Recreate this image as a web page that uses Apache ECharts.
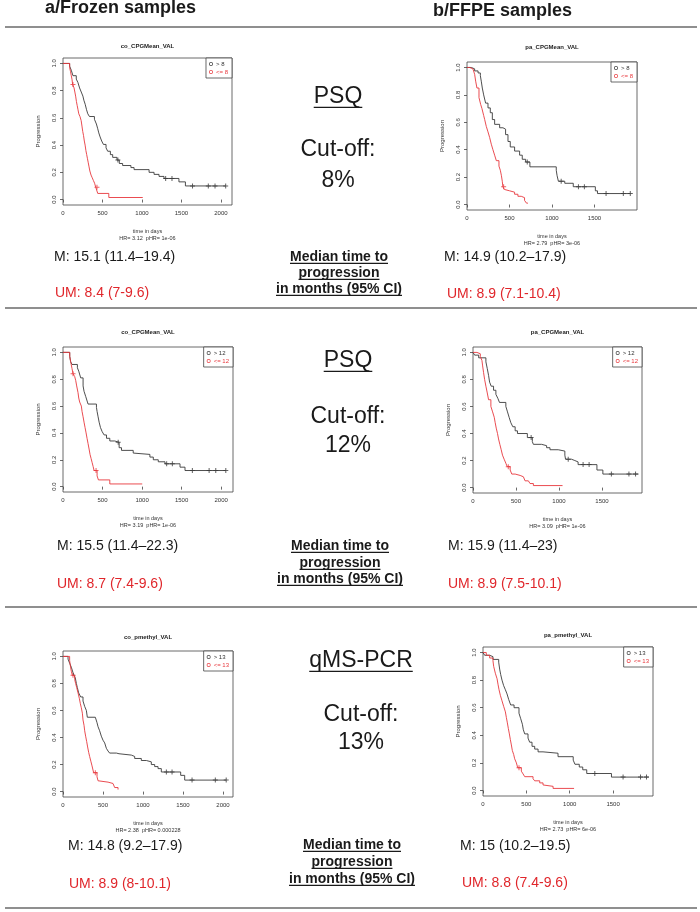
<!DOCTYPE html>
<html><head><meta charset="utf-8">
<script src="https://cdn.jsdelivr.net/npm/echarts@6/dist/echarts.min.js"></script>
<style>html,body{margin:0;padding:0;background:#fff}#c{width:700px;height:912px}</style>
</head><body><div id="c"></div>
<script>
// ---------- DATA ----------
const titles = ['co_CPGMean_VAL','pa_CPGMean_VAL','co_CPGMean_VAL','pa_CPGMean_VAL','co_pmethyl_VAL','pa_pmethyl_VAL'];
const cutoffs = ['8','8','12','12','13','13'];
const hrLabels = ['HR= 3.12  pHR= 1e-06','HR= 2.79  pHR= 3e-06','HR= 3.19  pHR= 1e-06','HR= 3.09  pHR= 1e-06','HR= 2.38  pHR= 0.000228','HR= 2.73  pHR= 6e-06'];
const mLabels = ['M: 15.1 (11.4–19.4)','M: 14.9 (10.2–17.9)','M: 15.5 (11.4–22.3)','M: 15.9 (11.4–23)','M: 14.8 (9.2–17.9)','M: 15 (10.2–19.5)'];
const umLabels = ['UM: 8.4 (7-9.6)','UM: 8.9 (7.1-10.4)','UM: 8.7 (7.4-9.6)','UM: 8.9 (7.5-10.1)','UM: 8.9 (8-10.1)','UM: 8.8 (7.4-9.6)'];
const methods = ['PSQ','PSQ','qMS-PCR'];
const cutTexts = ['8%','12%','13%'];
const cutLabel = 'Cut-off:';
const medianLines = ['Median time to','progression','in months (95% CI)'];
const headers = ['a/Frozen samples','b/FFPE samples'];
const yAxisName = 'Progression';
const xAxisName = 'time in days';
const xTicksFrozen = [0,500,1000,1500,2000];
const xTicksFFPE = [0,500,1000,1500];
const yTicks = [0,0.2,0.4,0.6,0.8,1.0];

// Panel 1 (co_CPGMean_VAL, cut-off 8)
const p1_hi = [[0,1],[84,0.98],[105,0.95],[126,0.91],[168,0.885],[189,0.86],[210,0.82],[231,0.79],[252,0.76],[264,0.73],[281,0.70],[298,0.66],[314,0.63],[335,0.61],[398,0.59],[423,0.555],[440,0.52],[453,0.49],[470,0.46],[490,0.43],[512,0.405],[545,0.38],[566,0.355],[600,0.33],[629,0.31],[683,0.29],[713,0.265],[755,0.25],[860,0.235],[900,0.22],[1090,0.20],[1153,0.185],[1216,0.17],[1279,0.155],[1468,0.13],[1550,0.10],[2060,0.10]];
const p1_lo = [[0,1],[84,0.97],[95,0.94],[105,0.91],[115,0.88],[122,0.845],[140,0.82],[150,0.79],[160,0.76],[170,0.72],[180,0.69],[190,0.66],[200,0.63],[215,0.61],[230,0.58],[240,0.54],[250,0.50],[260,0.47],[270,0.43],[280,0.40],[290,0.36],[300,0.33],[310,0.30],[320,0.27],[330,0.24],[340,0.21],[355,0.18],[370,0.16],[385,0.14],[400,0.12],[415,0.09],[440,0.045],[580,0.015],[1010,0.015]];
const p1_hiCens = [[695,0.29],[1300,0.155],[1380,0.155],[1640,0.10],[1840,0.10],[1925,0.10],[2060,0.10]];
const p1_loCens = [[126,0.845],[430,0.09]];

// Panel 2 (pa_CPGMean_VAL, cut-off 8)
const p2_hi = [[0,1],[51,0.99],[90,0.975],[130,0.96],[157,0.94],[168,0.90],[180,0.85],[196,0.80],[219,0.74],[247,0.705],[274,0.67],[298,0.62],[325,0.585],[384,0.56],[423,0.55],[454,0.51],[482,0.46],[509,0.42],[560,0.39],[619,0.36],[650,0.33],[690,0.31],[740,0.275],[1050,0.25],[1060,0.21],[1075,0.17],[1150,0.155],[1250,0.13],[1510,0.10],[1535,0.08],[1925,0.08]];
const p2_lo = [[0,1],[31,0.99],[70,0.98],[90,0.95],[102,0.90],[117,0.85],[141,0.78],[161,0.73],[176,0.70],[196,0.65],[208,0.62],[227,0.57],[247,0.53],[266,0.49],[286,0.44],[305,0.40],[325,0.36],[345,0.32],[376,0.28],[392,0.25],[405,0.21],[415,0.17],[422,0.13],[440,0.11],[454,0.10],[501,0.09],[560,0.075],[599,0.06],[638,0.05],[677,0.03],[700,0.01],[717,0.01]];
const p2_hiCens = [[709,0.31],[1108,0.17],[1311,0.13],[1381,0.13],[1636,0.08],[1839,0.08],[1921,0.08]];
const p2_loCens = [[431,0.13]];

// Panel 3 (co_CPGMean_VAL, cut-off 12)
const p3_hi = [[0,1],[85,0.97],[97,0.93],[114,0.91],[182,0.885],[199,0.86],[224,0.81],[254,0.75],[266,0.71],[288,0.67],[309,0.63],[317,0.615],[423,0.59],[431,0.56],[444,0.52],[457,0.48],[474,0.44],[495,0.41],[520,0.385],[550,0.36],[592,0.34],[655,0.33],[710,0.29],[740,0.27],[888,0.25],[909,0.24],[1099,0.22],[1142,0.20],[1205,0.185],[1290,0.17],[1480,0.145],[1543,0.12],[2059,0.12]];
const p3_lo = [[0,1],[85,0.97],[97,0.93],[114,0.88],[127,0.84],[148,0.82],[161,0.79],[173,0.75],[190,0.70],[199,0.66],[211,0.63],[232,0.60],[241,0.56],[254,0.52],[266,0.48],[279,0.44],[292,0.40],[304,0.36],[317,0.32],[330,0.28],[342,0.24],[355,0.21],[368,0.18],[381,0.15],[393,0.12],[431,0.08],[448,0.05],[592,0.02],[1002,0.02]];
const p3_hiCens = [[698,0.33],[1311,0.17],[1383,0.17],[1636,0.12],[1848,0.12],[1932,0.12],[2059,0.12]];
const p3_loCens = [[127,0.84],[418,0.12]];

// Panel 4 (pa_CPGMean_VAL, cut-off 12)
const p4_hi = [[0,1],[19,0.98],[66,0.96],[150,0.93],[166,0.88],[181,0.83],[193,0.78],[212,0.75],[239,0.72],[266,0.69],[289,0.66],[308,0.63],[382,0.60],[401,0.56],[420,0.52],[440,0.48],[463,0.45],[490,0.42],[517,0.40],[632,0.37],[690,0.34],[702,0.32],[798,0.31],[856,0.295],[895,0.28],[991,0.27],[1068,0.24],[1076,0.21],[1145,0.20],[1184,0.19],[1222,0.17],[1441,0.13],[1510,0.10],[1925,0.10]];
const p4_lo = [[0,1],[46,0.99],[85,0.97],[104,0.94],[112,0.90],[123,0.85],[135,0.80],[150,0.75],[166,0.70],[181,0.65],[208,0.60],[228,0.56],[247,0.52],[258,0.48],[270,0.44],[285,0.40],[297,0.36],[312,0.32],[328,0.28],[343,0.24],[362,0.21],[382,0.18],[398,0.155],[432,0.13],[451,0.10],[490,0.09],[548,0.08],[586,0.07],[605,0.05],[644,0.04],[663,0.03],[702,0.015],[1041,0.015]];
const p4_hiCens = [[676,0.37],[1107,0.21],[1280,0.17],[1350,0.17],[1609,0.10],[1813,0.10],[1890,0.10]];
const p4_loCens = [[410,0.155]];

// Panel 5 (co_pmethyl_VAL, cut-off 13)
const p5_hi = [[0,1],[63,0.98],[83,0.95],[104,0.92],[125,0.88],[138,0.86],[154,0.84],[167,0.80],[179,0.77],[196,0.73],[221,0.70],[250,0.67],[271,0.63],[292,0.60],[304,0.55],[404,0.54],[425,0.51],[438,0.48],[458,0.45],[479,0.41],[500,0.38],[521,0.36],[542,0.32],[563,0.30],[583,0.285],[667,0.28],[700,0.27],[854,0.26],[896,0.245],[979,0.23],[1042,0.22],[1104,0.20],[1146,0.185],[1188,0.17],[1229,0.145],[1471,0.12],[1521,0.085],[2040,0.085]];
const p5_lo = [[0,1],[83,0.97],[92,0.93],[104,0.89],[117,0.86],[146,0.83],[158,0.80],[171,0.77],[188,0.73],[204,0.69],[217,0.65],[229,0.62],[242,0.58],[250,0.53],[263,0.49],[271,0.45],[283,0.41],[296,0.37],[308,0.33],[321,0.29],[333,0.26],[350,0.22],[363,0.19],[383,0.14],[425,0.11],[438,0.08],[458,0.07],[563,0.06],[625,0.05],[646,0.03],[688,0.015]];
const p5_hiCens = [[1292,0.145],[1363,0.145],[1613,0.085],[1904,0.085],[2040,0.085]];
const p5_loCens = [[125,0.86],[404,0.14]];

// Panel 6 (pa_pmethyl_VAL, cut-off 13)
const p6_hi = [[0,1],[19,0.98],[77,0.97],[115,0.95],[181,0.93],[192,0.88],[204,0.84],[219,0.80],[238,0.76],[258,0.73],[277,0.70],[296,0.66],[319,0.62],[358,0.60],[415,0.56],[435,0.52],[454,0.48],[465,0.44],[481,0.41],[519,0.38],[538,0.35],[565,0.32],[596,0.30],[635,0.28],[692,0.27],[865,0.245],[1040,0.22],[1060,0.19],[1110,0.17],[1150,0.15],[1196,0.123],[1481,0.097],[1912,0.097]];
const p6_lo = [[0,1],[38,0.98],[77,0.96],[115,0.94],[123,0.90],[142,0.85],[162,0.81],[173,0.77],[185,0.73],[200,0.69],[219,0.65],[238,0.61],[258,0.57],[269,0.53],[281,0.49],[292,0.45],[304,0.41],[315,0.37],[327,0.33],[338,0.29],[354,0.26],[365,0.23],[385,0.20],[400,0.165],[442,0.14],[462,0.12],[481,0.10],[577,0.085],[596,0.07],[654,0.055],[692,0.04],[712,0.03],[808,0.015],[1050,0.015]];
const p6_hiCens = [[1289,0.123],[1615,0.097],[1816,0.097],[1885,0.097]];
const p6_loCens = [[415,0.165]];

const hiData = [p1_hi,p2_hi,p3_hi,p4_hi,p5_hi,p6_hi];
const loData = [p1_lo,p2_lo,p3_lo,p4_lo,p5_lo,p6_lo];
const hiCens = [p1_hiCens,p2_hiCens,p3_hiCens,p4_hiCens,p5_hiCens,p6_hiCens];
const loCens = [p1_loCens,p2_loCens,p3_loCens,p4_loCens,p5_loCens,p6_loCens];

// ---------- LAYOUT / STYLE ----------
const W = 700;
const BLACK = '#3a3a3a', RED = '#e8383d', TXT = '#1a1a1a', TXTRED = '#e0262b', AX = '#444';
const FONT = '"Liberation Sans", Arial, sans-serif';
const boxes = [
  {left:63, top:58, width:169, height:147, xmax:2140, ticks:xTicksFrozen},
  {left:467, top:62, width:170, height:148, xmax:2000, ticks:xTicksFFPE},
  {left:63, top:347, width:170, height:145, xmax:2150, ticks:xTicksFrozen},
  {left:473, top:347, width:169, height:146, xmax:1965, ticks:xTicksFFPE},
  {left:63, top:651, width:170, height:146, xmax:2125, ticks:xTicksFrozen},
  {left:483, top:647, width:170, height:149, xmax:1960, ticks:xTicksFFPE}
];
const titleY = [46, 47, 332, 332, 637, 635];
const mPos = [[54,257],[444,257],[57,546],[448,546],[68,846],[460,846]];
const umPos = [[55,293],[447,294],[57,584],[448,584],[69,884],[462,883]];
const mid = [
  {cx:338, method:97, cut:150, pct:181, mcx:339, med:[257,273,289]},
  {cx:348, method:361, cut:417, pct:446, mcx:340, med:[546,563,579]},
  {cx:361, method:661, cut:715, pct:743, mcx:352, med:[845,862,879]}
];
const sepY = [27, 308, 607, 908];

const PLUS = 'path://M4,0H6V4H10V6H6V10H4V6H0V4H4Z';
const RING = 'path://M5,0A5,5,0,1,1,4.99,0ZM5,1.8A3.2,3.2,0,1,0,5.01,1.8Z';

const ctx = document.createElement('canvas').getContext('2d');
function tw(text, size, weight){ ctx.font = (weight||'normal')+' '+size+'px '+FONT; return ctx.measureText(text).width; }

const grid=[], xAxis=[], yAxis=[], series=[], legend=[], graphic=[];
boxes.forEach((b,i)=>{
  grid.push({left:b.left, top:b.top, width:b.width, height:b.height, show:true, borderColor:AX, borderWidth:0.8, backgroundColor:'transparent'});
  xAxis.push({type:'value', gridIndex:i, min:0, max:b.xmax,
    name:xAxisName+'\n'+hrLabels[i], nameLocation:'middle', nameGap:23,
    nameTextStyle:{fontSize:5.5, color:'#333', lineHeight:7, fontFamily:FONT},
    axisLine:{show:false}, splitLine:{show:false},
    axisTick:{show:true, length:3, lineStyle:{color:AX, width:0.8}, customValues:b.ticks},
    axisLabel:{fontSize:6, color:'#333', margin:5, fontFamily:FONT, customValues:b.ticks, formatter:v=>String(v)}});
  yAxis.push({type:'value', gridIndex:i, min:-0.04, max:1.04,
    name:yAxisName, nameLocation:'middle', nameGap:22, nameRotate:90,
    nameTextStyle:{fontSize:6, color:'#333', fontFamily:FONT},
    axisLine:{show:false}, splitLine:{show:false},
    axisTick:{show:true, length:3, lineStyle:{color:AX, width:0.8}, customValues:yTicks},
    axisLabel:{fontSize:6, color:'#333', margin:6, rotate:90, fontFamily:FONT, customValues:yTicks, formatter:v=>v.toFixed(1)}});
  const hiName = '> '+cutoffs[i], loName = '<= '+cutoffs[i];
  series.push({type:'line', name:hiName, xAxisIndex:i, yAxisIndex:i, data:hiData[i], step:'end', symbol:'none', showSymbol:false, silent:true, animation:false, lineStyle:{color:BLACK, width:0.9}, itemStyle:{color:BLACK}});
  series.push({type:'line', name:loName, xAxisIndex:i, yAxisIndex:i, data:loData[i], step:'end', symbol:'none', showSymbol:false, silent:true, animation:false, lineStyle:{color:RED, width:0.9}, itemStyle:{color:RED}});
  series.push({type:'scatter', name:'censHi'+i, xAxisIndex:i, yAxisIndex:i, data:hiCens[i], symbol:PLUS, symbolSize:5, silent:true, animation:false, itemStyle:{color:BLACK}});
  series.push({type:'scatter', name:'censLo'+i, xAxisIndex:i, yAxisIndex:i, data:loCens[i], symbol:PLUS, symbolSize:5, silent:true, animation:false, itemStyle:{color:RED}});
  legend.push({orient:'vertical', top:b.top, right:W-(b.left+b.width), icon:RING,
    itemWidth:4, itemHeight:4, itemGap:2, padding:[3,4,3,3], borderColor:AX, borderWidth:0.8,
    backgroundColor:'#fff', selectedMode:false,
    textStyle:{fontSize:6, fontFamily:FONT, padding:[0,0,0,-2]},
    data:[{name:hiName, textStyle:{color:'#333'}},{name:loName, textStyle:{color:RED}}]});
  graphic.push({type:'text', x:b.left+b.width/2, y:titleY[i], style:{text:titles[i], fontSize:6, fontWeight:'bold', fontFamily:FONT, fill:'#222', align:'center', verticalAlign:'middle', textAlign:'center', textVerticalAlign:'middle'}});
  graphic.push({type:'text', x:mPos[i][0], y:mPos[i][1], style:{text:mLabels[i], fontSize:14, fontFamily:FONT, fill:TXT, align:'left', verticalAlign:'middle', textAlign:'left', textVerticalAlign:'middle'}});
  graphic.push({type:'text', x:umPos[i][0], y:umPos[i][1], style:{text:umLabels[i], fontSize:14, fontFamily:FONT, fill:TXTRED, align:'left', verticalAlign:'middle', textAlign:'left', textVerticalAlign:'middle'}});
});

function centerText(text, cx, cy, size, weight, underline){
  graphic.push({type:'text', x:cx, y:cy, style:{text:text, fontSize:size, fontWeight:weight||'normal', fontFamily:FONT, fill:TXT, align:'center', verticalAlign:'middle', textAlign:'center', textVerticalAlign:'middle'}});
  if (underline){
    const w = tw(text, size, weight);
    const uy = cy + size*0.45;
    graphic.push({type:'line', shape:{x1:cx-w/2, y1:uy, x2:cx+w/2, y2:uy}, style:{stroke:TXT, lineWidth: size>16?1.4:1.2}});
  }
}
mid.forEach((m,k)=>{
  centerText(methods[k], m.cx, m.method, 23, 'normal', true);
  centerText(cutLabel, m.cx, m.cut, 23, 'normal', false);
  centerText(cutTexts[k], m.cx, m.pct, 23, 'normal', false);
  medianLines.forEach((s,j)=> centerText(s, m.mcx, m.med[j], 14, 'bold', true));
});
graphic.push({type:'text', x:45, y:8, style:{text:headers[0], fontSize:18, fontWeight:'bold', fontFamily:FONT, fill:TXT, align:'left', verticalAlign:'middle', textAlign:'left', textVerticalAlign:'middle'}});
graphic.push({type:'text', x:433, y:11, style:{text:headers[1], fontSize:18, fontWeight:'bold', fontFamily:FONT, fill:TXT, align:'left', verticalAlign:'middle', textAlign:'left', textVerticalAlign:'middle'}});
sepY.forEach(y=> graphic.push({type:'line', shape:{x1:5, y1:y, x2:697, y2:y}, style:{stroke:'#6a6a6a', lineWidth:1.5}}));

const chart = echarts.init(document.getElementById('c'), null, {renderer:'canvas', width:700, height:912});
chart.setOption({animation:false, backgroundColor:'#fff', textStyle:{fontFamily:FONT}, grid, xAxis, yAxis, series, legend, graphic});
</script></body></html>
